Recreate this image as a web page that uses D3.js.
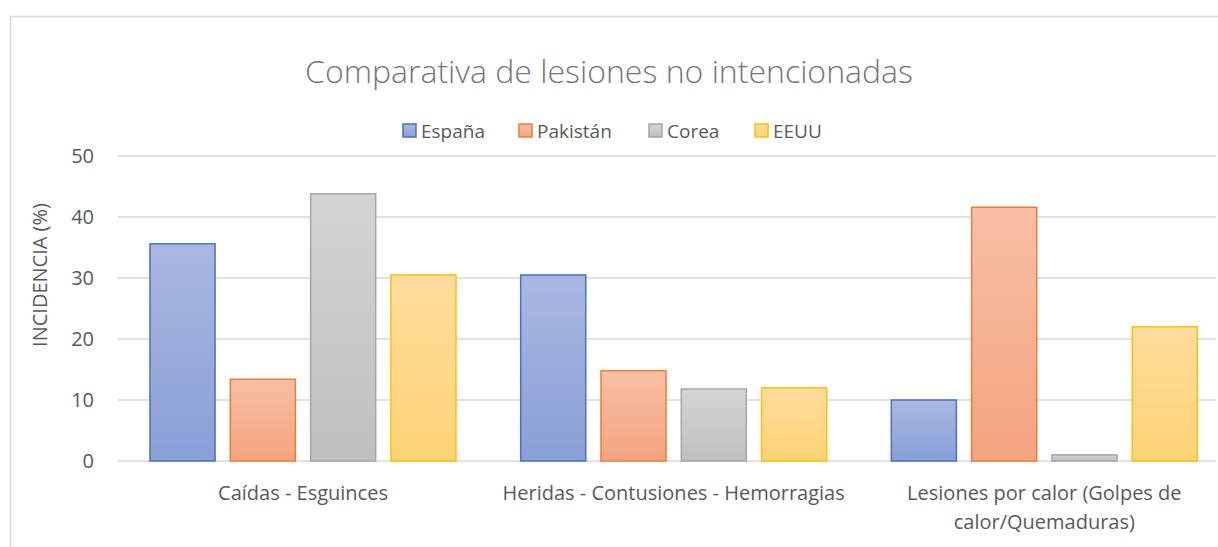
<!DOCTYPE html>
<html>
<head>
<meta charset="utf-8">
<script src="https://cdn.jsdelivr.net/npm/d3@7"></script>
<style>
  body { margin: 0; background: #fff; }
  text { font-family: "Open Sans", "Liberation Sans", sans-serif; fill: #595959; }
</style>
</head>
<body>
<div id="chart"></div>
<script>
// Data
const categories = ["Caídas - Esguinces", "Heridas - Contusiones - Hemorragias", "Lesiones por calor (Golpes de calor/Quemaduras)"];
const series = ["España", "Pakistán", "Corea", "EEUU"];
const espana = [35.6, 30.5, 10.0];
const pakistan = [13.4, 14.8, 41.6];
const corea = [43.8, 11.8, 1.0];
const eeuu = [30.5, 12.0, 22.0];
const yTicks = [0, 10, 20, 30, 40, 50];

const values = [espana, pakistan, corea, eeuu];

const width = 1218;
const height = 547;
const margin = { top: 156, bottom: 86, left: 118 };

// colours: border, gradient top, gradient bottom
const colors = [
    { stroke: "#4472c4", top: "#aab8e1", bottom: "#889fd7" },
    { stroke: "#ed7d31", top: "#f7bfa6", bottom: "#f4a47f" },
    { stroke: "#a5a5a5", top: "#d4d4d4", bottom: "#bfbfbf" },
    { stroke: "#ffc000", top: "#fedc9c", bottom: "#fed376" }
];

const svg = d3.select("#chart")
    .append("svg")
    .attr("width", width)
    .attr("height", height);

// gradients
const defs = svg.append("defs");
colors.forEach((c, i) => {
    const g = defs.append("linearGradient")
        .attr("id", "grad" + i)
        .attr("x1", 0).attr("y1", 0).attr("x2", 0).attr("y2", 1);
    g.append("stop").attr("offset", "0%").attr("stop-color", c.top);
    g.append("stop").attr("offset", "100%").attr("stop-color", c.bottom);
});

// chart border
svg.append("rect")
    .attr("x", 10.5)
    .attr("y", 16.5)
    .attr("width", width)
    .attr("height", height)
    .attr("fill", "none")
    .attr("stroke", "#d9d9d9")
    .attr("stroke-width", 1.5);

// scales
const xScale = d3.scaleBand()
    .domain(categories)
    .range([margin.left, 1230]);

const xInner = d3.scaleBand()
    .domain(series)
    .range([32, 338])
    .paddingInner(0.19);

const yScale = d3.scaleLinear()
    .domain([0, 50])
    .range([height - margin.bottom, margin.top]);

// gridlines
svg.append("g")
    .selectAll("line")
    .data(yTicks)
    .enter()
    .append("line")
    .attr("x1", margin.left)
    .attr("x2", 1216)
    .attr("y1", d => yScale(d))
    .attr("y2", d => yScale(d))
    .attr("stroke", "#d9d9d9")
    .attr("stroke-width", 1.5);

// y tick labels
svg.append("g")
    .selectAll("text")
    .data(yTicks)
    .enter()
    .append("text")
    .attr("x", 94)
    .attr("y", d => yScale(d))
    .attr("dy", "0.35em")
    .attr("text-anchor", "end")
    .style("font-size", "20px")
    .text(d => d);

// y axis title
svg.append("text")
    .attr("transform", "rotate(-90)")
    .attr("x", -275)
    .attr("y", 40)
    .attr("dy", "0.35em")
    .attr("text-anchor", "middle")
    .style("font-size", "20px")
    .text("INCIDENCIA (%)");

// bars
const groups = svg.selectAll(".barGroup")
    .data(categories)
    .enter()
    .append("g")
    .attr("class", "barGroup")
    .attr("transform", d => `translate(${xScale(d)}, 0)`);

groups.selectAll("rect")
    .data((d, ci) => series.map((s, si) => ({ s, si, v: values[si][ci] })))
    .enter()
    .append("rect")
    .attr("x", d => xInner(d.s))
    .attr("y", d => yScale(d.v))
    .attr("width", xInner.bandwidth())
    .attr("height", d => yScale(0) - yScale(d.v))
    .attr("fill", d => `url(#grad${d.si})`)
    .attr("stroke", d => colors[d.si].stroke)
    .attr("stroke-width", 1.5);

// x labels
const xLabelLines = [["Caídas - Esguinces"], ["Heridas - Contusiones - Hemorragias"], ["Lesiones por calor (Golpes de", "calor/Quemaduras)"]];
categories.forEach((c, i) => {
    const t = svg.append("text")
        .attr("x", xScale(c) + 185)
        .attr("y", 500)
        .attr("text-anchor", "middle")
        .style("font-size", "20px");
    xLabelLines[i].forEach((line, j) => {
        t.append("tspan")
            .attr("x", xScale(c) + 185)
            .attr("dy", j === 0 ? 0 : 29)
            .text(line);
    });
});

// title
svg.append("text")
    .attr("x", 609)
    .attr("y", 83)
    .attr("text-anchor", "middle")
    .style("font-size", "32px")
    .style("font-weight", 300)
    .style("fill", "#767676")
    .text("Comparativa de lesiones no intencionadas");

// legend
const legendX = [403, 519, 649, 755];
const legend = svg.append("g");
series.forEach((s, i) => {
    legend.append("rect")
        .attr("x", legendX[i])
        .attr("y", 124)
        .attr("width", 13)
        .attr("height", 13)
        .attr("fill", `url(#grad${i})`)
        .attr("stroke", colors[i].stroke)
        .attr("stroke-width", 1.5);
    legend.append("text")
        .attr("x", legendX[i] + 18)
        .attr("y", 131)
        .attr("dy", "0.35em")
        .style("font-size", "19px")
        .text(s);
});
</script>
</body>
</html>
